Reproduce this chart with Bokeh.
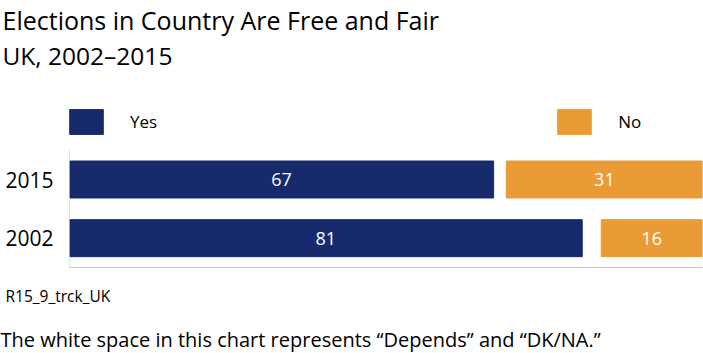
from bokeh.plotting import figure
from bokeh.models import (ColumnDataSource, FactorRange, Range1d, Legend, LegendItem,
                          Title, FixedTicker)
from bokeh.embed import file_html
from bokeh.resources import INLINE
from bokeh.core.properties import value

# ---- data ----
years = ["2015", "2002"]
yes_vals = [67, 81]
no_vals = [31, 16]
legend_row = " "
year_order = ["2002", "2015", legend_row]   # top row holds the legend
title_text = "Elections in Country Are Free and Fair"
subtitle_text = "UK, 2002–2015"
note_text = "R15_9_trck_UK"
footnote_text = "The white space in this chart represents “Depends” and “DK/NA.”"

FONT = "Open Sans"
NAVY = "#172a6c"
ORANGE = "#eb9b36"
AXIS = "#c8c8c8"

src = ColumnDataSource(dict(
    year=years,
    yes=yes_vals,
    no=no_vals,
    no_left=[100 - n for n in no_vals],
    no_right=[100 for _ in no_vals],
    yes_mid=[v / 2 for v in yes_vals],
    no_mid=[100 - n / 2 for n in no_vals],
    yes_lbl=[str(v) for v in yes_vals],
    no_lbl=[str(v) for v in no_vals],
))

p = figure(width=703, height=353, title=None,
           y_range=FactorRange(factors=year_order),
           x_range=Range1d(0, 100),
           output_backend="svg", toolbar_location=None,
           min_border_left=69, min_border_right=1,
           min_border_top=91, min_border_bottom=86)

p.outline_line_color = None
p.xgrid.visible = False
p.ygrid.visible = False

yes_r = p.hbar(y="year", left=0, right="yes", height=0.63, color=NAVY, source=src)
no_r = p.hbar(y="year", left="no_left", right="no_right", height=0.63, color=ORANGE, source=src)

p.text(x="yes_mid", y="year", text="yes_lbl", text_align="center", text_baseline="middle",
       text_color="white", text_font=value(FONT), text_font_size="18px", source=src)
p.text(x="no_mid", y="year", text="no_lbl", text_align="center", text_baseline="middle",
       text_color="white", text_font=value(FONT), text_font_size="18px", source=src)

# vertical axis line only along the bar rows
p.segment(x0=[0], x1=[0], y0=[[year_order[0], -0.5]], y1=[[year_order[1], 0.5]],
          line_color=AXIS, line_width=1)

# axes
p.xaxis.ticker = FixedTicker(ticks=[])
p.xaxis.axis_line_color = AXIS
p.xaxis.major_tick_line_color = None
p.xaxis.minor_tick_line_color = None
p.yaxis.axis_line_color = None
p.yaxis.major_tick_line_color = None
p.yaxis.minor_tick_line_color = None
p.yaxis.major_tick_out = 0
p.yaxis.major_label_standoff = 16
p.yaxis.major_label_text_font = FONT
p.yaxis.major_label_text_font_size = "21px"
p.yaxis.major_label_text_color = "black"

# legend in the top row
leg = Legend(items=[LegendItem(label="Yes", renderers=[yes_r]),
                    LegendItem(label="No", renderers=[no_r])],
             location=(-4, 130), orientation="horizontal",
             glyph_width=42, glyph_height=31, label_standoff=23, spacing=396,
             padding=0, margin=0, border_line_color=None, background_fill_alpha=0,
             label_text_font=FONT, label_text_font_size="17px", label_text_color="black")
p.add_layout(leg, "center")

# subtitle then title (later-added sits further from the frame)
p.add_layout(Title(text=subtitle_text, align="left", offset=-67, standoff=0,
                   padding=dict(left=0, right=0, top=0, bottom=20),
                   text_font=FONT, text_font_size="24.5px", text_font_style="normal",
                   text_color="black"), "above")
p.add_layout(Title(text=title_text, align="left", offset=-67, standoff=0,
                   text_font=FONT, text_font_size="25px", text_font_style="normal",
                   text_color="black"), "above")

# notes below
p.add_layout(Title(text=note_text, align="left", offset=-64, standoff=0,
                   padding=dict(left=0, right=0, top=15, bottom=0),
                   text_font=FONT, text_font_size="15.5px", text_font_style="normal",
                   text_color="black"), "below")
p.add_layout(Title(text=footnote_text, align="left", offset=-69, standoff=0,
                   padding=dict(left=0, right=0, top=17, bottom=0),
                   text_font=FONT, text_font_size="20px", text_font_style="normal",
                   text_color="black"), "below")

open("out.html", "w").write(file_html(p, INLINE))
